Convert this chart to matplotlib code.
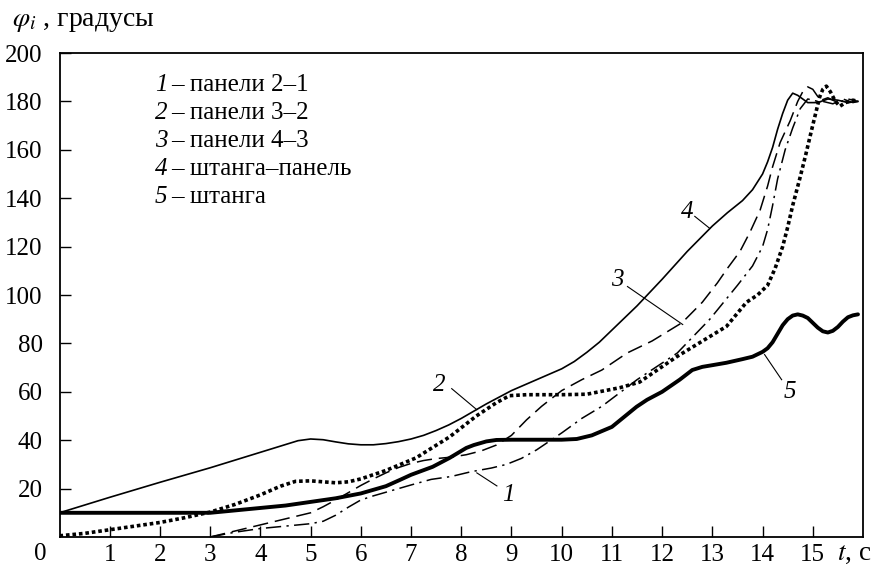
import matplotlib
matplotlib.use("Agg")
import matplotlib.pyplot as plt

plt.rcParams['font.family'] = ['Liberation Serif', 'DejaVu Serif']
plt.rcParams['mathtext.fontset'] = 'stix'

# ---------------- data ----------------
# curve 4: штанга–панель (thin solid)
t4 = [0, 1, 2, 3, 4, 4.5, 4.75, 5, 5.25, 5.5, 5.75, 6, 6.25, 6.5, 6.75, 7, 7.25,
      7.5, 7.75, 8, 8.5, 9, 9.5, 10, 10.25, 10.5, 10.75, 11, 11.5, 12, 12.5, 13,
      13.3, 13.6, 13.8, 14.0, 14.1, 14.2, 14.3, 14.4, 14.5, 14.6, 14.7, 14.8,
      14.9, 15.1, 15.3, 15.5, 15.7, 15.9]
p4 = [10, 16.4, 22.6, 28.6, 35, 38.2, 39.8, 40.5, 40.2, 39.3, 38.5, 38.1, 38.1,
      38.6, 39.4, 40.5, 42, 44, 46.3, 49, 55, 60.5, 65, 69.5, 72.5, 76.3, 80.5,
      85.5, 95.5, 106.5, 118, 128.5, 134, 139, 143.5, 150, 155, 161, 168.5, 175,
      180.5, 183.4, 182.5, 181, 179.5, 179.5, 181, 180.5, 179.5, 180]

# curve 3: панели 4–3 (dashed)
t3 = [3, 3.5, 4, 4.5, 5, 5.25, 5.5, 5.75, 6, 6.25, 6.5, 6.75, 7, 7.25, 7.5, 7.8,
      8.1, 8.4, 8.7, 9.0, 9.3, 9.6, 10.0, 10.4, 10.8, 11.3, 11.8, 12.4, 12.8,
      13.1, 13.3, 13.55, 13.75, 13.95, 14.1, 14.2, 14.35, 14.55, 14.7, 14.8, 14.9,
      15.0, 15.1, 15.2, 15.4, 15.6, 15.8, 15.9]
p3 = [0, 2.5, 5, 7.5, 10, 12.5, 15.3, 18.3, 21.3, 24, 26.5, 28.7, 30.4, 31.6, 32.4,
      33, 34, 35.6, 38, 42, 48.4, 54, 60.5, 65, 69, 76, 81, 88.6, 97, 105, 111,
      118, 126, 135, 145, 153, 163, 172, 180, 184, 186, 185, 182, 180, 179, 181,
      179.5, 180]

# curve 1: панели 2–1 (dash-dot)
t1 = [3, 3.5, 4, 4.5, 5, 5.25, 5.5, 5.75, 6, 6.25, 6.5, 7, 7.4, 7.8, 8.2, 8.6, 8.9,
      9.2, 9.5, 10, 10.4, 10.8, 11.5, 12.3, 12.95, 13.5, 13.8, 14.0, 14.1, 14.2,
      14.3, 14.45, 14.6, 14.75, 14.9, 15.1, 15.3, 15.5, 15.7, 15.9]
p1 = [0, 2, 3.5, 4.5, 5.5, 6.5, 9, 12.3, 15.3, 17, 18.5, 21.5, 23.8, 25, 27, 28.5,
      30, 32.5, 36, 43, 49, 54, 65, 76, 90, 104, 112, 120, 127, 137, 148, 160,
      169, 177, 181, 180, 181.5, 179.5, 181, 180]

# curve 2: панели 3–2 (dotted)
t2 = [0, 0.5, 1, 1.5, 2, 2.5, 3, 3.5, 4, 4.4, 4.7, 5, 5.25, 5.5, 5.75, 6, 6.5, 7.1,
      7.77, 8.3, 8.7, 8.96, 9.3, 10, 10.5, 11.16, 11.55, 12.29, 13.28, 13.68, 13.9,
      14.1, 14.25, 14.4, 14.5, 14.6, 14.74, 14.86, 14.98, 15.08, 15.14, 15.2,
      15.27, 15.35, 15.45, 15.54, 15.65, 15.8, 15.9]
p2 = [0.5, 1.5, 3, 4.5, 6, 8, 10.3, 13.5, 17.4, 21, 23, 23.2, 22.8, 22.4, 22.8, 24,
      27.5, 32.7, 41.4, 50, 55.5, 58.4, 58.8, 58.8, 59, 61.7, 64, 74.5, 87, 97,
      100, 104, 111, 120, 128, 137, 148, 158, 168.5, 177, 182, 185, 186.3, 184,
      180, 178, 179.5, 180.5, 180]

# curve 5: штанга (thick solid)
t5 = [0, 1, 2, 3, 3.5, 4, 4.5, 5, 5.5, 6, 6.5, 6.78, 7, 7.43, 7.77, 8.1, 8.25, 8.5,
      8.7, 9, 9.5, 10, 10.3, 10.6, 11, 11.49, 11.7, 12, 12.35, 12.6, 12.8, 13,
      13.28, 13.6, 13.8, 14.0, 14.1, 14.2, 14.3, 14.4, 14.5, 14.6, 14.7, 14.8,
      14.9, 15.0, 15.1, 15.2, 15.3, 15.4, 15.5, 15.6, 15.7, 15.8, 15.9]
p5 = [10, 10, 10, 10, 11, 12, 13, 14.5, 16, 18, 21, 23.6, 25.7, 29, 32.7, 36.8, 38,
      39.5, 40.1, 40.2, 40.2, 40.2, 40.5, 42, 45.5, 53.8, 56.7, 60, 65, 69, 70.3,
      71, 72, 73.5, 74.5, 76.5, 78, 80.5, 84, 87.5, 90, 91.5, 92, 91.5, 90.5, 88.5,
      86.5, 85, 84.5, 85.2, 86.8, 89, 90.8, 91.6, 92]

legend_nums = ['1', '2', '3', '4', '5']
legend_texts = ['– панели 2–1', '– панели 3–2', '– панели 4–3',
                '– штанга–панель', '– штанга']

x_ticks = list(range(1, 16))
y_ticks = list(range(20, 201, 20))

# curve labels: (text, label pos, leader start, leader end)
curve_labels = [
    ('4', (12.5, 134.5), (12.65, 132.5), (12.95, 127.5)),
    ('3', (11.10, 106.4), (11.31, 103.5), (12.41, 87.8)),
    ('2', (7.57, 63.0), (7.81, 61.3), (8.31, 52.6)),
    ('1', (8.93, 17.4), (8.71, 21.1), (8.31, 26.5)),
    ('5', (14.54, 60.0), (14.38, 65.0), (14.04, 75.4)),
]

# ---------------- figure ----------------
W, H = 882, 567
fig = plt.figure(figsize=(W / 100, H / 100), dpi=100)
ax = fig.add_axes([59.5 / W, 1 - 537 / H, (863 - 59.5) / W, (537 - 53) / H])

k = 'black'
ax.plot(t4, p4, color=k, lw=1.2)
ax.plot(t3, p3, color=k, lw=1.1, linestyle=(0, (10, 4.5)))
ax.plot(t1, p1, color=k, lw=1.1, linestyle=(0, (10, 3.5, 1.5, 3.5)))
ax.plot(t2, p2, color=k, lw=2.6, linestyle=(0, (1, 0.8)))
ax.plot(t5, p5, color=k, lw=2.8, solid_capstyle='round', solid_joinstyle='round')

for txt, pos, a, b in curve_labels:
    ax.plot([a[0], b[0]], [a[1], b[1]], color=k, lw=0.8)
    ax.text(pos[0], pos[1], txt, fontsize=18, fontstyle='italic',
            ha='center', va='center')

ax.set_xlim(0, 16)
ax.set_ylim(0, 200)
ax.set_xticks(x_ticks)
ax.set_yticks(y_ticks)
ax.tick_params(direction='in', length=8, width=1.0, labelsize=18,
               top=False, right=False)
ax.tick_params(axis='y', pad=12)
ax.tick_params(axis='x', pad=5)
for s in ax.spines.values():
    s.set_linewidth(1.3)

# origin label, axis labels
fig.text(40 / W, 1 - 554 / H, '0', fontsize=18, ha='center', va='center')
fig.text(12 / W, 1 - 21 / H, r'$\varphi_i$ , градусы', fontsize=20,
         ha='left', va='center')
fig.text(837 / W, 1 - 553 / H, r'$t$, c', fontsize=19.5, ha='left', va='center')

# legend
for i, (n, s) in enumerate(zip(legend_nums, legend_texts)):
    y = 85 + i * 28
    fig.text(155 / W, 1 - y / H, n, fontsize=18, fontstyle='italic',
             ha='left', va='center')
    fig.text(171 / W, 1 - y / H, s, fontsize=18, ha='left', va='center')

fig.savefig('out.png', dpi=100)
